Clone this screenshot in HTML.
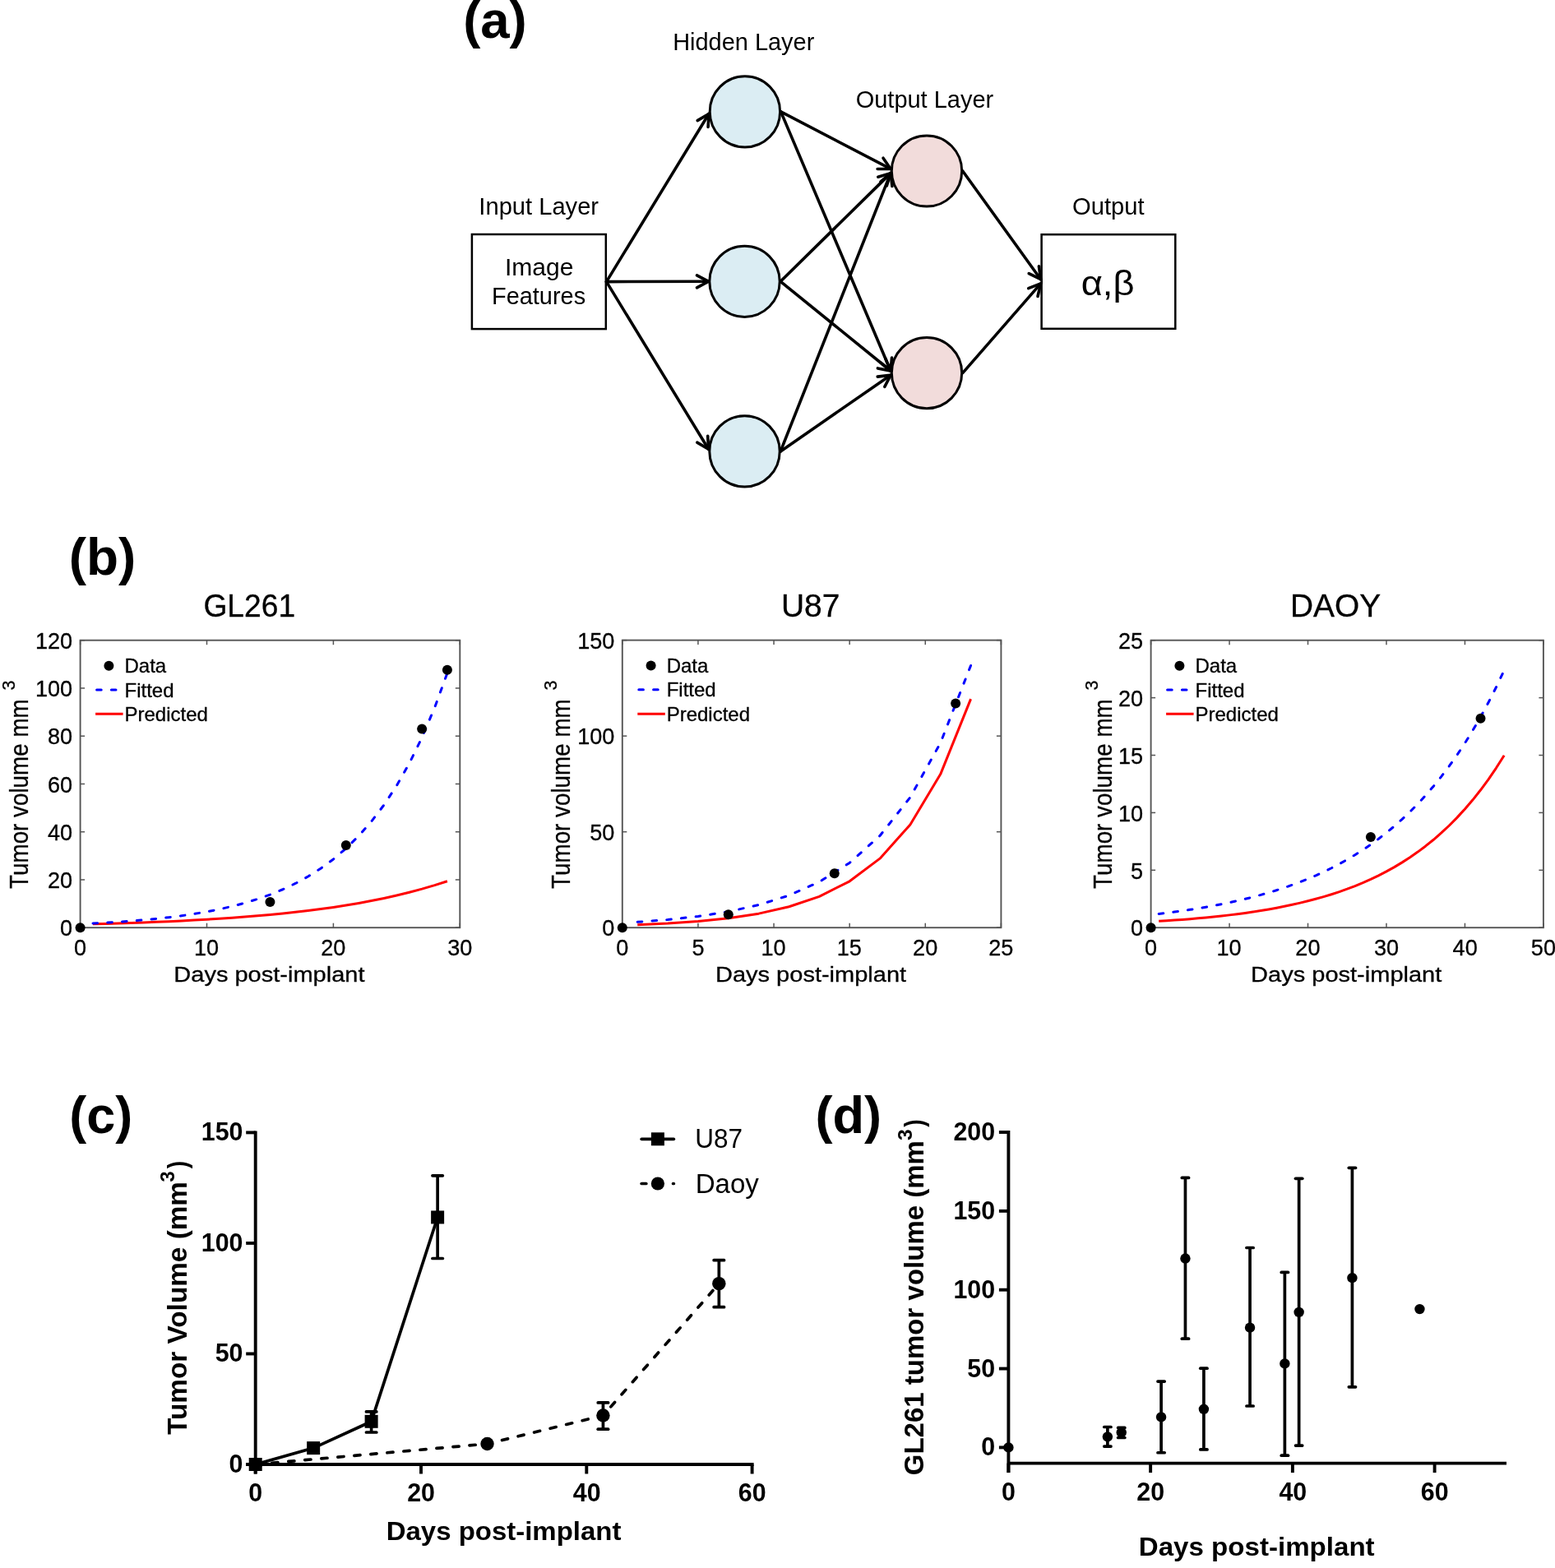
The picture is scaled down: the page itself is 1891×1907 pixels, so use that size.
<!DOCTYPE html>
<html><head><meta charset="utf-8"><title>Figure</title>
<style>html,body{margin:0;padding:0;background:#fff;}svg{display:block;}text{font-family:"Liberation Sans", sans-serif;}text.m{stroke:#000;stroke-width:0.3px;}</style>
</head><body>
<svg width="1891" height="1907" viewBox="0 0 1891 1907">
<rect width="1891" height="1907" fill="#fff"/>
<text x="563.13" y="45.80" font-size="63.8" font-weight="bold" fill="#000" textLength="77.57" lengthAdjust="spacingAndGlyphs">(a)</text>
<text x="818.18" y="60.90" font-size="29" fill="#000" textLength="172.15" lengthAdjust="spacingAndGlyphs">Hidden Layer</text>
<text x="582.38" y="261.00" font-size="29" fill="#000" textLength="145.66" lengthAdjust="spacingAndGlyphs">Input Layer</text>
<text x="1040.70" y="130.70" font-size="29" fill="#000" textLength="167.48" lengthAdjust="spacingAndGlyphs">Output Layer</text>
<text x="1304.09" y="261.00" font-size="29" fill="#000" textLength="87.51" lengthAdjust="spacingAndGlyphs">Output</text>
<rect x="573.9" y="285.0" width="162.9" height="115.1" fill="#fff" stroke="#000" stroke-width="2.5"/>
<rect x="1266.6" y="285.2" width="162.7" height="114.6" fill="#fff" stroke="#000" stroke-width="2.5"/>
<text x="613.99" y="335.00" font-size="29" fill="#000" textLength="83.54" lengthAdjust="spacingAndGlyphs">Image</text>
<text x="597.99" y="369.60" font-size="29" fill="#000" textLength="114.17" lengthAdjust="spacingAndGlyphs">Features</text>
<text x="1314.69" y="358.90" font-size="42" fill="#000" textLength="64.77" lengthAdjust="spacingAndGlyphs">α,β</text>
<line x1="737.5" y1="342.6" x2="862.0" y2="138.5" stroke="#000" stroke-width="3.6" stroke-linecap="round"/>
<polyline points="861.1,154.5 862.0,138.5 848.2,146.6" fill="none" stroke="#000" stroke-width="3.6" stroke-linecap="round" stroke-linejoin="miter"/>
<line x1="737.5" y1="342.6" x2="861.6" y2="342.3" stroke="#000" stroke-width="3.6" stroke-linecap="round"/>
<polyline points="847.5,349.8 861.6,342.3 847.5,334.8" fill="none" stroke="#000" stroke-width="3.6" stroke-linecap="round" stroke-linejoin="miter"/>
<line x1="737.5" y1="342.6" x2="861.6" y2="546.3" stroke="#000" stroke-width="3.6" stroke-linecap="round"/>
<polyline points="847.8,538.1 861.6,546.3 860.7,530.3" fill="none" stroke="#000" stroke-width="3.6" stroke-linecap="round" stroke-linejoin="miter"/>
<line x1="949.6" y1="135.9" x2="1083.1" y2="205.4" stroke="#000" stroke-width="3.6" stroke-linecap="round"/>
<polyline points="1067.1,205.5 1083.1,205.4 1074.0,192.2" fill="none" stroke="#000" stroke-width="3.6" stroke-linecap="round" stroke-linejoin="miter"/>
<line x1="949.6" y1="135.9" x2="1083.1" y2="451.0" stroke="#000" stroke-width="3.6" stroke-linecap="round"/>
<polyline points="1070.7,440.9 1083.1,451.0 1084.5,435.1" fill="none" stroke="#000" stroke-width="3.6" stroke-linecap="round" stroke-linejoin="miter"/>
<line x1="949.2" y1="342.3" x2="1083.1" y2="210.6" stroke="#000" stroke-width="3.6" stroke-linecap="round"/>
<polyline points="1078.3,225.9 1083.1,210.6 1067.8,215.2" fill="none" stroke="#000" stroke-width="3.6" stroke-linecap="round" stroke-linejoin="miter"/>
<line x1="949.2" y1="342.3" x2="1083.1" y2="451.0" stroke="#000" stroke-width="3.6" stroke-linecap="round"/>
<polyline points="1067.4,447.9 1083.1,451.0 1076.9,436.3" fill="none" stroke="#000" stroke-width="3.6" stroke-linecap="round" stroke-linejoin="miter"/>
<line x1="949.2" y1="548.9" x2="1083.1" y2="210.6" stroke="#000" stroke-width="3.6" stroke-linecap="round"/>
<polyline points="1084.9,226.5 1083.1,210.6 1070.9,221.0" fill="none" stroke="#000" stroke-width="3.6" stroke-linecap="round" stroke-linejoin="miter"/>
<line x1="949.2" y1="548.9" x2="1083.1" y2="456.2" stroke="#000" stroke-width="3.6" stroke-linecap="round"/>
<polyline points="1075.8,470.4 1083.1,456.2 1067.2,458.1" fill="none" stroke="#000" stroke-width="3.6" stroke-linecap="round" stroke-linejoin="miter"/>
<line x1="1170.7" y1="208.0" x2="1265.6" y2="339.7" stroke="#000" stroke-width="3.6" stroke-linecap="round"/>
<polyline points="1251.2,332.6 1265.6,339.7 1263.4,323.8" fill="none" stroke="#000" stroke-width="3.6" stroke-linecap="round" stroke-linejoin="miter"/>
<line x1="1170.7" y1="453.6" x2="1265.6" y2="344.9" stroke="#000" stroke-width="3.6" stroke-linecap="round"/>
<polyline points="1262.0,360.5 1265.6,344.9 1250.7,350.6" fill="none" stroke="#000" stroke-width="3.6" stroke-linecap="round" stroke-linejoin="miter"/>
<ellipse cx="905.9" cy="135.9" rx="42.7" ry="43.1" fill="#dbedf3" stroke="#000" stroke-width="3"/>
<ellipse cx="905.5" cy="342.3" rx="42.7" ry="43.1" fill="#dbedf3" stroke="#000" stroke-width="3"/>
<ellipse cx="905.5" cy="548.9" rx="42.7" ry="43.1" fill="#dbedf3" stroke="#000" stroke-width="3"/>
<ellipse cx="1127.0" cy="208.0" rx="42.7" ry="43.1" fill="#f2dcdb" stroke="#000" stroke-width="3"/>
<ellipse cx="1127.0" cy="453.6" rx="42.7" ry="43.1" fill="#f2dcdb" stroke="#000" stroke-width="3"/>
<text x="83.81" y="699.20" font-size="63.5" font-weight="bold" fill="#000" textLength="81.60" lengthAdjust="spacingAndGlyphs">(b)</text>
<polyline points="112.99,1123.83 128.38,1123.41 143.77,1122.95 159.16,1122.45 174.55,1121.90 189.94,1121.30 205.33,1120.64 220.72,1119.92 236.11,1119.12 251.50,1118.25 266.89,1117.30 282.28,1116.26 297.67,1115.12 313.06,1113.87 328.45,1112.49 343.84,1110.99 359.23,1109.34 374.62,1107.54 390.01,1105.56 405.40,1103.39 420.79,1101.02 436.18,1098.42 451.57,1095.57 466.96,1092.45 482.35,1089.02 497.74,1085.27 513.13,1081.17 528.52,1076.66 543.91,1071.73" fill="none" stroke="#ff0000" stroke-width="3" stroke-linejoin="round"/>
<polyline points="112.99,1122.99 128.38,1122.18 143.77,1121.23 159.16,1120.13 174.55,1118.87 189.94,1117.40 205.33,1115.70 220.72,1113.74 236.11,1111.47 251.50,1108.84 266.89,1105.80 282.28,1102.28 297.67,1098.21 313.06,1093.50 328.45,1088.05 343.84,1081.75 359.23,1074.45 374.62,1066.01 390.01,1056.24 405.40,1044.93 420.79,1031.85 436.18,1016.72 451.57,999.21 466.96,978.95 482.35,955.50 497.74,928.38 513.13,896.99 528.52,860.67 543.91,818.65" fill="none" stroke="#0000ff" stroke-width="3" stroke-dasharray="5.6 12.2" stroke-linecap="round" stroke-linejoin="round"/>
<rect x="97.60" y="778.70" width="461.70" height="349.50" fill="none" stroke="#555" stroke-width="1.9"/>
<line x1="97.60" y1="1128.2" x2="97.60" y2="1122.7" stroke="#555" stroke-width="1.5"/>
<line x1="97.60" y1="778.7" x2="97.60" y2="784.2" stroke="#555" stroke-width="1.5"/>
<text class="m" x="90.09" y="1161.90" font-size="28.5" fill="#000" textLength="15.06" lengthAdjust="spacingAndGlyphs">0</text>
<line x1="251.50" y1="1128.2" x2="251.50" y2="1122.7" stroke="#555" stroke-width="1.5"/>
<line x1="251.50" y1="778.7" x2="251.50" y2="784.2" stroke="#555" stroke-width="1.5"/>
<text class="m" x="236.00" y="1161.90" font-size="28.5" fill="#000" textLength="30.12" lengthAdjust="spacingAndGlyphs">10</text>
<line x1="405.40" y1="1128.2" x2="405.40" y2="1122.7" stroke="#555" stroke-width="1.5"/>
<line x1="405.40" y1="778.7" x2="405.40" y2="784.2" stroke="#555" stroke-width="1.5"/>
<text class="m" x="390.24" y="1161.90" font-size="28.5" fill="#000" textLength="30.12" lengthAdjust="spacingAndGlyphs">20</text>
<line x1="559.30" y1="1128.2" x2="559.30" y2="1122.7" stroke="#555" stroke-width="1.5"/>
<line x1="559.30" y1="778.7" x2="559.30" y2="784.2" stroke="#555" stroke-width="1.5"/>
<text class="m" x="544.27" y="1161.90" font-size="28.5" fill="#000" textLength="30.12" lengthAdjust="spacingAndGlyphs">30</text>
<line x1="97.6" y1="1128.20" x2="103.1" y2="1128.20" stroke="#555" stroke-width="1.5"/>
<line x1="559.3" y1="1128.20" x2="553.8" y2="1128.20" stroke="#555" stroke-width="1.5"/>
<text class="m" x="73.06" y="1138.40" font-size="28.5" fill="#000" textLength="15.06" lengthAdjust="spacingAndGlyphs">0</text>
<line x1="97.6" y1="1069.95" x2="103.1" y2="1069.95" stroke="#555" stroke-width="1.5"/>
<line x1="559.3" y1="1069.95" x2="553.8" y2="1069.95" stroke="#555" stroke-width="1.5"/>
<text class="m" x="58.03" y="1080.15" font-size="28.5" fill="#000" textLength="30.12" lengthAdjust="spacingAndGlyphs">20</text>
<line x1="97.6" y1="1011.70" x2="103.1" y2="1011.70" stroke="#555" stroke-width="1.5"/>
<line x1="559.3" y1="1011.70" x2="553.8" y2="1011.70" stroke="#555" stroke-width="1.5"/>
<text class="m" x="58.03" y="1021.90" font-size="28.5" fill="#000" textLength="30.12" lengthAdjust="spacingAndGlyphs">40</text>
<line x1="97.6" y1="953.45" x2="103.1" y2="953.45" stroke="#555" stroke-width="1.5"/>
<line x1="559.3" y1="953.45" x2="553.8" y2="953.45" stroke="#555" stroke-width="1.5"/>
<text class="m" x="58.03" y="963.65" font-size="28.5" fill="#000" textLength="30.12" lengthAdjust="spacingAndGlyphs">60</text>
<line x1="97.6" y1="895.20" x2="103.1" y2="895.20" stroke="#555" stroke-width="1.5"/>
<line x1="559.3" y1="895.20" x2="553.8" y2="895.20" stroke="#555" stroke-width="1.5"/>
<text class="m" x="58.03" y="905.40" font-size="28.5" fill="#000" textLength="30.12" lengthAdjust="spacingAndGlyphs">80</text>
<line x1="97.6" y1="836.95" x2="103.1" y2="836.95" stroke="#555" stroke-width="1.5"/>
<line x1="559.3" y1="836.95" x2="553.8" y2="836.95" stroke="#555" stroke-width="1.5"/>
<text class="m" x="43.00" y="847.15" font-size="28.5" fill="#000" textLength="45.18" lengthAdjust="spacingAndGlyphs">100</text>
<line x1="97.6" y1="778.70" x2="103.1" y2="778.70" stroke="#555" stroke-width="1.5"/>
<line x1="559.3" y1="778.70" x2="553.8" y2="778.70" stroke="#555" stroke-width="1.5"/>
<text class="m" x="43.00" y="788.90" font-size="28.5" fill="#000" textLength="45.18" lengthAdjust="spacingAndGlyphs">120</text>
<circle cx="97.60" cy="1128.20" r="6" fill="#000"/>
<circle cx="328.45" cy="1097.04" r="6" fill="#000"/>
<circle cx="420.79" cy="1028.01" r="6" fill="#000"/>
<circle cx="513.13" cy="886.46" r="6" fill="#000"/>
<circle cx="543.91" cy="814.82" r="6" fill="#000"/>
<circle cx="132.40" cy="809.7" r="6" fill="#000"/>
<line x1="116.10" y1="838.9000000000001" x2="149.60" y2="838.9000000000001" stroke="#0000ff" stroke-width="3" stroke-dasharray="5.6 12.2" stroke-dashoffset="-1.5" stroke-linecap="round"/>
<line x1="116.10" y1="868.3000000000001" x2="149.60" y2="868.3000000000001" stroke="#ff0000" stroke-width="3"/>
<text class="m" x="151.48" y="818.30" font-size="24" fill="#000">Data</text>
<text class="m" x="151.48" y="847.50" font-size="24" fill="#000">Fitted</text>
<text class="m" x="151.48" y="876.70" font-size="24" fill="#000">Predicted</text>
<text class="m" x="247.44" y="749.90" font-size="39" fill="#000" textLength="111.71" lengthAdjust="spacingAndGlyphs">GL261</text>
<text class="m" x="211.33" y="1194.10" font-size="26.5" fill="#000" textLength="232.16" lengthAdjust="spacingAndGlyphs">Days post-implant</text>
<text class="m" transform="translate(34.40,1080.89) rotate(-90)" x="0" y="0" font-size="31" fill="#000" textLength="230.57" lengthAdjust="spacingAndGlyphs">Tumor volume mm</text>
<text class="m" transform="translate(17.90,839.55) rotate(-90)" x="0" y="0" font-size="21.5" fill="#000" textLength="11.83" lengthAdjust="spacingAndGlyphs">3</text>
<polyline points="775.22,1124.74 812.07,1123.05 848.92,1120.52 885.77,1116.76 922.62,1111.15 959.46,1102.79 996.31,1090.34 1033.16,1071.79 1070.01,1044.14 1106.86,1002.95 1143.70,941.57 1180.55,850.12" fill="none" stroke="#ff0000" stroke-width="3" stroke-linejoin="round"/>
<polyline points="775.22,1121.37 812.07,1118.52 848.92,1114.47 885.77,1108.72 922.62,1100.58 959.46,1089.03 996.31,1072.64 1033.16,1049.41 1070.01,1016.46 1106.86,969.72 1143.70,903.44 1180.55,809.45" fill="none" stroke="#0000ff" stroke-width="3" stroke-dasharray="5.6 12.2" stroke-linecap="round" stroke-linejoin="round"/>
<rect x="756.80" y="778.60" width="460.60" height="349.60" fill="none" stroke="#555" stroke-width="1.9"/>
<line x1="756.80" y1="1128.2" x2="756.80" y2="1122.7" stroke="#555" stroke-width="1.5"/>
<line x1="756.80" y1="778.6" x2="756.80" y2="784.1" stroke="#555" stroke-width="1.5"/>
<text class="m" x="749.29" y="1161.90" font-size="28.5" fill="#000" textLength="15.06" lengthAdjust="spacingAndGlyphs">0</text>
<line x1="848.92" y1="1128.2" x2="848.92" y2="1122.7" stroke="#555" stroke-width="1.5"/>
<line x1="848.92" y1="778.6" x2="848.92" y2="784.1" stroke="#555" stroke-width="1.5"/>
<text class="m" x="841.41" y="1161.90" font-size="28.5" fill="#000" textLength="15.06" lengthAdjust="spacingAndGlyphs">5</text>
<line x1="941.04" y1="1128.2" x2="941.04" y2="1122.7" stroke="#555" stroke-width="1.5"/>
<line x1="941.04" y1="778.6" x2="941.04" y2="784.1" stroke="#555" stroke-width="1.5"/>
<text class="m" x="925.54" y="1161.90" font-size="28.5" fill="#000" textLength="30.12" lengthAdjust="spacingAndGlyphs">10</text>
<line x1="1033.16" y1="1128.2" x2="1033.16" y2="1122.7" stroke="#555" stroke-width="1.5"/>
<line x1="1033.16" y1="778.6" x2="1033.16" y2="784.1" stroke="#555" stroke-width="1.5"/>
<text class="m" x="1017.66" y="1161.90" font-size="28.5" fill="#000" textLength="30.12" lengthAdjust="spacingAndGlyphs">15</text>
<line x1="1125.28" y1="1128.2" x2="1125.28" y2="1122.7" stroke="#555" stroke-width="1.5"/>
<line x1="1125.28" y1="778.6" x2="1125.28" y2="784.1" stroke="#555" stroke-width="1.5"/>
<text class="m" x="1110.12" y="1161.90" font-size="28.5" fill="#000" textLength="30.12" lengthAdjust="spacingAndGlyphs">20</text>
<line x1="1217.40" y1="1128.2" x2="1217.40" y2="1122.7" stroke="#555" stroke-width="1.5"/>
<line x1="1217.40" y1="778.6" x2="1217.40" y2="784.1" stroke="#555" stroke-width="1.5"/>
<text class="m" x="1202.24" y="1161.90" font-size="28.5" fill="#000" textLength="30.12" lengthAdjust="spacingAndGlyphs">25</text>
<line x1="756.8" y1="1128.20" x2="762.3" y2="1128.20" stroke="#555" stroke-width="1.5"/>
<line x1="1217.4" y1="1128.20" x2="1211.9" y2="1128.20" stroke="#555" stroke-width="1.5"/>
<text class="m" x="732.26" y="1138.40" font-size="28.5" fill="#000" textLength="15.06" lengthAdjust="spacingAndGlyphs">0</text>
<line x1="756.8" y1="1011.67" x2="762.3" y2="1011.67" stroke="#555" stroke-width="1.5"/>
<line x1="1217.4" y1="1011.67" x2="1211.9" y2="1011.67" stroke="#555" stroke-width="1.5"/>
<text class="m" x="717.23" y="1021.87" font-size="28.5" fill="#000" textLength="30.12" lengthAdjust="spacingAndGlyphs">50</text>
<line x1="756.8" y1="895.13" x2="762.3" y2="895.13" stroke="#555" stroke-width="1.5"/>
<line x1="1217.4" y1="895.13" x2="1211.9" y2="895.13" stroke="#555" stroke-width="1.5"/>
<text class="m" x="702.20" y="905.33" font-size="28.5" fill="#000" textLength="45.18" lengthAdjust="spacingAndGlyphs">100</text>
<line x1="756.8" y1="778.60" x2="762.3" y2="778.60" stroke="#555" stroke-width="1.5"/>
<line x1="1217.4" y1="778.60" x2="1211.9" y2="778.60" stroke="#555" stroke-width="1.5"/>
<text class="m" x="702.20" y="788.80" font-size="28.5" fill="#000" textLength="45.18" lengthAdjust="spacingAndGlyphs">150</text>
<circle cx="756.80" cy="1128.20" r="6" fill="#000"/>
<circle cx="885.77" cy="1112.35" r="6" fill="#000"/>
<circle cx="1014.74" cy="1062.24" r="6" fill="#000"/>
<circle cx="1162.13" cy="855.51" r="6" fill="#000"/>
<circle cx="791.60" cy="809.6" r="6" fill="#000"/>
<line x1="775.30" y1="838.8000000000001" x2="808.80" y2="838.8000000000001" stroke="#0000ff" stroke-width="3" stroke-dasharray="5.6 12.2" stroke-dashoffset="-1.5" stroke-linecap="round"/>
<line x1="775.30" y1="868.2" x2="808.80" y2="868.2" stroke="#ff0000" stroke-width="3"/>
<text class="m" x="810.68" y="818.20" font-size="24" fill="#000">Data</text>
<text class="m" x="810.68" y="847.40" font-size="24" fill="#000">Fitted</text>
<text class="m" x="810.68" y="876.60" font-size="24" fill="#000">Predicted</text>
<text class="m" x="949.98" y="749.90" font-size="39" fill="#000" textLength="71.45" lengthAdjust="spacingAndGlyphs">U87</text>
<text class="m" x="869.98" y="1194.10" font-size="26.5" fill="#000" textLength="232.16" lengthAdjust="spacingAndGlyphs">Days post-implant</text>
<text class="m" transform="translate(693.10,1080.89) rotate(-90)" x="0" y="0" font-size="31" fill="#000" textLength="230.57" lengthAdjust="spacingAndGlyphs">Tumor volume mm</text>
<text class="m" transform="translate(676.60,839.55) rotate(-90)" x="0" y="0" font-size="21.5" fill="#000" textLength="11.83" lengthAdjust="spacingAndGlyphs">3</text>
<polyline points="1409.15,1120.37 1418.69,1119.76 1428.24,1119.11 1437.78,1118.40 1447.33,1117.64 1456.88,1116.83 1466.42,1115.94 1475.97,1114.99 1485.51,1113.97 1495.06,1112.87 1504.61,1111.68 1514.15,1110.39 1523.70,1109.01 1533.24,1107.53 1542.79,1105.92 1552.34,1104.19 1561.88,1102.33 1571.43,1100.33 1580.97,1098.16 1590.52,1095.83 1600.07,1093.32 1609.61,1090.62 1619.16,1087.70 1628.70,1084.56 1638.25,1081.18 1647.80,1077.53 1657.34,1073.60 1666.89,1069.37 1676.43,1064.80 1685.98,1059.89 1695.53,1054.59 1705.07,1048.88 1714.62,1042.73 1724.16,1036.10 1733.71,1028.95 1743.26,1021.26 1752.80,1012.96 1762.35,1004.02 1771.89,994.39 1781.44,984.01 1790.99,972.83 1800.53,960.78 1810.08,947.79 1819.62,933.80 1829.17,918.72" fill="none" stroke="#ff0000" stroke-width="3" stroke-linejoin="round"/>
<polyline points="1409.15,1111.42 1418.69,1110.27 1428.24,1109.04 1437.78,1107.72 1447.33,1106.31 1456.88,1104.81 1466.42,1103.20 1475.97,1101.48 1485.51,1099.64 1495.06,1097.68 1504.61,1095.58 1514.15,1093.34 1523.70,1090.94 1533.24,1088.38 1542.79,1085.64 1552.34,1082.71 1561.88,1079.58 1571.43,1076.24 1580.97,1072.67 1590.52,1068.85 1600.07,1064.77 1609.61,1060.41 1619.16,1055.75 1628.70,1050.76 1638.25,1045.44 1647.80,1039.75 1657.34,1033.67 1666.89,1027.17 1676.43,1020.22 1685.98,1012.79 1695.53,1004.86 1705.07,996.38 1714.62,987.31 1724.16,977.63 1733.71,967.27 1743.26,956.21 1752.80,944.38 1762.35,931.74 1771.89,918.23 1781.44,903.80 1790.99,888.37 1800.53,871.87 1810.08,854.25 1819.62,835.41 1829.17,815.28" fill="none" stroke="#0000ff" stroke-width="3" stroke-dasharray="5.6 12.2" stroke-linecap="round" stroke-linejoin="round"/>
<rect x="1399.60" y="778.70" width="477.30" height="349.50" fill="none" stroke="#555" stroke-width="1.9"/>
<line x1="1399.60" y1="1128.2" x2="1399.60" y2="1122.7" stroke="#555" stroke-width="1.5"/>
<line x1="1399.60" y1="778.7" x2="1399.60" y2="784.2" stroke="#555" stroke-width="1.5"/>
<text class="m" x="1392.09" y="1161.90" font-size="28.5" fill="#000" textLength="15.06" lengthAdjust="spacingAndGlyphs">0</text>
<line x1="1495.06" y1="1128.2" x2="1495.06" y2="1122.7" stroke="#555" stroke-width="1.5"/>
<line x1="1495.06" y1="778.7" x2="1495.06" y2="784.2" stroke="#555" stroke-width="1.5"/>
<text class="m" x="1479.56" y="1161.90" font-size="28.5" fill="#000" textLength="30.12" lengthAdjust="spacingAndGlyphs">10</text>
<line x1="1590.52" y1="1128.2" x2="1590.52" y2="1122.7" stroke="#555" stroke-width="1.5"/>
<line x1="1590.52" y1="778.7" x2="1590.52" y2="784.2" stroke="#555" stroke-width="1.5"/>
<text class="m" x="1575.36" y="1161.90" font-size="28.5" fill="#000" textLength="30.12" lengthAdjust="spacingAndGlyphs">20</text>
<line x1="1685.98" y1="1128.2" x2="1685.98" y2="1122.7" stroke="#555" stroke-width="1.5"/>
<line x1="1685.98" y1="778.7" x2="1685.98" y2="784.2" stroke="#555" stroke-width="1.5"/>
<text class="m" x="1670.95" y="1161.90" font-size="28.5" fill="#000" textLength="30.12" lengthAdjust="spacingAndGlyphs">30</text>
<line x1="1781.44" y1="1128.2" x2="1781.44" y2="1122.7" stroke="#555" stroke-width="1.5"/>
<line x1="1781.44" y1="778.7" x2="1781.44" y2="784.2" stroke="#555" stroke-width="1.5"/>
<text class="m" x="1766.62" y="1161.90" font-size="28.5" fill="#000" textLength="30.12" lengthAdjust="spacingAndGlyphs">40</text>
<line x1="1876.90" y1="1128.2" x2="1876.90" y2="1122.7" stroke="#555" stroke-width="1.5"/>
<line x1="1876.90" y1="778.7" x2="1876.90" y2="784.2" stroke="#555" stroke-width="1.5"/>
<text class="m" x="1861.87" y="1161.90" font-size="28.5" fill="#000" textLength="30.12" lengthAdjust="spacingAndGlyphs">50</text>
<line x1="1399.6" y1="1128.20" x2="1405.1" y2="1128.20" stroke="#555" stroke-width="1.5"/>
<line x1="1876.9" y1="1128.20" x2="1871.4" y2="1128.20" stroke="#555" stroke-width="1.5"/>
<text class="m" x="1375.06" y="1138.40" font-size="28.5" fill="#000" textLength="15.06" lengthAdjust="spacingAndGlyphs">0</text>
<line x1="1399.6" y1="1058.30" x2="1405.1" y2="1058.30" stroke="#555" stroke-width="1.5"/>
<line x1="1876.9" y1="1058.30" x2="1871.4" y2="1058.30" stroke="#555" stroke-width="1.5"/>
<text class="m" x="1375.06" y="1068.50" font-size="28.5" fill="#000" textLength="15.06" lengthAdjust="spacingAndGlyphs">5</text>
<line x1="1399.6" y1="988.40" x2="1405.1" y2="988.40" stroke="#555" stroke-width="1.5"/>
<line x1="1876.9" y1="988.40" x2="1871.4" y2="988.40" stroke="#555" stroke-width="1.5"/>
<text class="m" x="1360.03" y="998.60" font-size="28.5" fill="#000" textLength="30.12" lengthAdjust="spacingAndGlyphs">10</text>
<line x1="1399.6" y1="918.50" x2="1405.1" y2="918.50" stroke="#555" stroke-width="1.5"/>
<line x1="1876.9" y1="918.50" x2="1871.4" y2="918.50" stroke="#555" stroke-width="1.5"/>
<text class="m" x="1360.03" y="928.70" font-size="28.5" fill="#000" textLength="30.12" lengthAdjust="spacingAndGlyphs">15</text>
<line x1="1399.6" y1="848.60" x2="1405.1" y2="848.60" stroke="#555" stroke-width="1.5"/>
<line x1="1876.9" y1="848.60" x2="1871.4" y2="848.60" stroke="#555" stroke-width="1.5"/>
<text class="m" x="1360.03" y="858.80" font-size="28.5" fill="#000" textLength="30.12" lengthAdjust="spacingAndGlyphs">20</text>
<line x1="1399.6" y1="778.70" x2="1405.1" y2="778.70" stroke="#555" stroke-width="1.5"/>
<line x1="1876.9" y1="778.70" x2="1871.4" y2="778.70" stroke="#555" stroke-width="1.5"/>
<text class="m" x="1360.03" y="788.90" font-size="28.5" fill="#000" textLength="30.12" lengthAdjust="spacingAndGlyphs">25</text>
<circle cx="1399.60" cy="1128.20" r="6" fill="#000"/>
<circle cx="1666.89" cy="1018.04" r="6" fill="#000"/>
<circle cx="1800.53" cy="873.76" r="6" fill="#000"/>
<circle cx="1434.40" cy="809.7" r="6" fill="#000"/>
<line x1="1418.10" y1="838.9000000000001" x2="1451.60" y2="838.9000000000001" stroke="#0000ff" stroke-width="3" stroke-dasharray="5.6 12.2" stroke-dashoffset="-1.5" stroke-linecap="round"/>
<line x1="1418.10" y1="868.3000000000001" x2="1451.60" y2="868.3000000000001" stroke="#ff0000" stroke-width="3"/>
<text class="m" x="1453.48" y="818.30" font-size="24" fill="#000">Data</text>
<text class="m" x="1453.48" y="847.50" font-size="24" fill="#000">Fitted</text>
<text class="m" x="1453.48" y="876.70" font-size="24" fill="#000">Predicted</text>
<text class="m" x="1568.89" y="749.90" font-size="39" fill="#000" textLength="110.25" lengthAdjust="spacingAndGlyphs">DAOY</text>
<text class="m" x="1521.13" y="1194.10" font-size="26.5" fill="#000" textLength="232.16" lengthAdjust="spacingAndGlyphs">Days post-implant</text>
<text class="m" transform="translate(1351.90,1080.89) rotate(-90)" x="0" y="0" font-size="31" fill="#000" textLength="230.57" lengthAdjust="spacingAndGlyphs">Tumor volume mm</text>
<text class="m" transform="translate(1335.40,839.55) rotate(-90)" x="0" y="0" font-size="21.5" fill="#000" textLength="11.83" lengthAdjust="spacingAndGlyphs">3</text>
<text x="84.15" y="1377.70" font-size="63" font-weight="bold" fill="#000" textLength="77.03" lengthAdjust="spacingAndGlyphs">(c)</text>
<line x1="310.7" y1="1375.5" x2="310.7" y2="1792.5" stroke="#000" stroke-width="3.9"/>
<line x1="299.2" y1="1781.0" x2="916.6" y2="1781.0" stroke="#000" stroke-width="3.9"/>
<line x1="299.2" y1="1781.00" x2="310.7" y2="1781.00" stroke="#000" stroke-width="3.9"/>
<text x="278.55" y="1791.00" font-size="31" font-weight="bold" fill="#000" textLength="16.90" lengthAdjust="spacingAndGlyphs">0</text>
<line x1="299.2" y1="1646.47" x2="310.7" y2="1646.47" stroke="#000" stroke-width="3.9"/>
<text x="261.69" y="1656.47" font-size="31" font-weight="bold" fill="#000" textLength="33.79" lengthAdjust="spacingAndGlyphs">50</text>
<line x1="299.2" y1="1511.93" x2="310.7" y2="1511.93" stroke="#000" stroke-width="3.9"/>
<text x="244.83" y="1521.93" font-size="31" font-weight="bold" fill="#000" textLength="50.69" lengthAdjust="spacingAndGlyphs">100</text>
<line x1="299.2" y1="1377.40" x2="310.7" y2="1377.40" stroke="#000" stroke-width="3.9"/>
<text x="244.83" y="1387.40" font-size="31" font-weight="bold" fill="#000" textLength="50.69" lengthAdjust="spacingAndGlyphs">150</text>
<line x1="310.70" y1="1781.0" x2="310.70" y2="1792.5" stroke="#000" stroke-width="3.9"/>
<text x="302.27" y="1825.80" font-size="31" font-weight="bold" fill="#000" textLength="16.90" lengthAdjust="spacingAndGlyphs">0</text>
<line x1="512.00" y1="1781.0" x2="512.00" y2="1792.5" stroke="#000" stroke-width="3.9"/>
<text x="495.22" y="1825.80" font-size="31" font-weight="bold" fill="#000" textLength="33.79" lengthAdjust="spacingAndGlyphs">20</text>
<line x1="713.30" y1="1781.0" x2="713.30" y2="1792.5" stroke="#000" stroke-width="3.9"/>
<text x="696.82" y="1825.80" font-size="31" font-weight="bold" fill="#000" textLength="33.79" lengthAdjust="spacingAndGlyphs">40</text>
<line x1="914.60" y1="1781.0" x2="914.60" y2="1792.5" stroke="#000" stroke-width="3.9"/>
<text x="897.82" y="1825.80" font-size="31" font-weight="bold" fill="#000" textLength="33.79" lengthAdjust="spacingAndGlyphs">60</text>
<polyline points="310.70,1781.00 381.15,1761.09 451.61,1728.80 532.13,1480.45" fill="none" stroke="#000" stroke-width="3.7"/>
<polyline points="310.70,1781.00 592.52,1755.98 733.43,1721.54 874.34,1561.17" fill="none" stroke="#000" stroke-width="3.7" stroke-dasharray="7.2 12.9" stroke-linecap="round"/>
<line x1="451.61" y1="1741.99" x2="451.61" y2="1716.96" stroke="#000" stroke-width="3.7"/>
<line x1="445.41" y1="1741.99" x2="457.81" y2="1741.99" stroke="#000" stroke-width="3.7" stroke-linecap="round"/>
<line x1="445.41" y1="1716.96" x2="457.81" y2="1716.96" stroke="#000" stroke-width="3.7" stroke-linecap="round"/>
<line x1="532.13" y1="1530.50" x2="532.13" y2="1429.87" stroke="#000" stroke-width="3.7"/>
<line x1="525.93" y1="1530.50" x2="538.33" y2="1530.50" stroke="#000" stroke-width="3.7" stroke-linecap="round"/>
<line x1="525.93" y1="1429.87" x2="538.33" y2="1429.87" stroke="#000" stroke-width="3.7" stroke-linecap="round"/>
<line x1="733.43" y1="1738.22" x2="733.43" y2="1705.93" stroke="#000" stroke-width="3.7"/>
<line x1="727.23" y1="1738.22" x2="739.63" y2="1738.22" stroke="#000" stroke-width="3.7" stroke-linecap="round"/>
<line x1="727.23" y1="1705.93" x2="739.63" y2="1705.93" stroke="#000" stroke-width="3.7" stroke-linecap="round"/>
<line x1="874.34" y1="1589.69" x2="874.34" y2="1532.65" stroke="#000" stroke-width="3.7"/>
<line x1="868.14" y1="1589.69" x2="880.54" y2="1589.69" stroke="#000" stroke-width="3.7" stroke-linecap="round"/>
<line x1="868.14" y1="1532.65" x2="880.54" y2="1532.65" stroke="#000" stroke-width="3.7" stroke-linecap="round"/>
<rect x="302.70" y="1773.00" width="16" height="16" fill="#000"/>
<rect x="373.15" y="1753.09" width="16" height="16" fill="#000"/>
<rect x="443.61" y="1720.80" width="16" height="16" fill="#000"/>
<rect x="524.13" y="1472.45" width="16" height="16" fill="#000"/>
<circle cx="310.70" cy="1781.00" r="8.2" fill="#000"/>
<circle cx="592.52" cy="1755.98" r="8.2" fill="#000"/>
<circle cx="733.43" cy="1721.54" r="8.2" fill="#000"/>
<circle cx="874.34" cy="1561.17" r="8.2" fill="#000"/>
<line x1="780.2" y1="1385.3" x2="819.3" y2="1385.3" stroke="#000" stroke-width="3.7" stroke-linecap="round"/>
<rect x="791.9" y="1377.3" width="16" height="16" fill="#000"/>
<line x1="780.2" y1="1439.5" x2="785.8" y2="1439.5" stroke="#000" stroke-width="3.7" stroke-linecap="round"/>
<line x1="818.6" y1="1439.5" x2="819.3" y2="1439.5" stroke="#000" stroke-width="3.7" stroke-linecap="round"/>
<circle cx="799.9" cy="1439.5" r="8.1" fill="#000"/>
<text x="845.34" y="1396.40" font-size="33.5" fill="#000" textLength="57.83" lengthAdjust="spacingAndGlyphs">U87</text>
<text x="845.65" y="1450.50" font-size="33.5" fill="#000" textLength="77.20" lengthAdjust="spacingAndGlyphs">Daoy</text>
<text x="469.66" y="1872.80" font-size="32" font-weight="bold" fill="#000" textLength="285.78" lengthAdjust="spacingAndGlyphs">Days post-implant</text>
<text transform="translate(227.10,1744.93) rotate(-90)" x="0" y="0" font-size="33" font-weight="bold" fill="#000" textLength="307.94" lengthAdjust="spacingAndGlyphs">Tumor Volume (mm</text>
<text transform="translate(212.30,1437.49) rotate(-90)" x="0" y="0" font-size="24" font-weight="bold" fill="#000" textLength="13.15" lengthAdjust="spacingAndGlyphs">3</text>
<text transform="translate(227.10,1421.14) rotate(-90)" x="0" y="0" font-size="33" font-weight="bold" fill="#000" textLength="9.52" lengthAdjust="spacingAndGlyphs">)</text>
<text x="991.54" y="1377.80" font-size="63" font-weight="bold" fill="#000" textLength="80.62" lengthAdjust="spacingAndGlyphs">(d)</text>
<line x1="1226.4" y1="1375.0" x2="1226.4" y2="1791.1" stroke="#000" stroke-width="3.9"/>
<line x1="1226.4" y1="1779.60" x2="1832.00" y2="1779.60" stroke="#000" stroke-width="3.9"/>
<line x1="1214.9" y1="1760.40" x2="1226.4" y2="1760.40" stroke="#000" stroke-width="3.9"/>
<text x="1193.15" y="1770.40" font-size="31" font-weight="bold" fill="#000" textLength="16.90" lengthAdjust="spacingAndGlyphs">0</text>
<line x1="1214.9" y1="1664.55" x2="1226.4" y2="1664.55" stroke="#000" stroke-width="3.9"/>
<text x="1176.29" y="1674.55" font-size="31" font-weight="bold" fill="#000" textLength="33.79" lengthAdjust="spacingAndGlyphs">50</text>
<line x1="1214.9" y1="1568.70" x2="1226.4" y2="1568.70" stroke="#000" stroke-width="3.9"/>
<text x="1159.43" y="1578.70" font-size="31" font-weight="bold" fill="#000" textLength="50.69" lengthAdjust="spacingAndGlyphs">100</text>
<line x1="1214.9" y1="1472.85" x2="1226.4" y2="1472.85" stroke="#000" stroke-width="3.9"/>
<text x="1159.43" y="1482.85" font-size="31" font-weight="bold" fill="#000" textLength="50.69" lengthAdjust="spacingAndGlyphs">150</text>
<line x1="1214.9" y1="1377.00" x2="1226.4" y2="1377.00" stroke="#000" stroke-width="3.9"/>
<text x="1159.43" y="1387.00" font-size="31" font-weight="bold" fill="#000" textLength="50.69" lengthAdjust="spacingAndGlyphs">200</text>
<line x1="1226.40" y1="1779.60" x2="1226.40" y2="1791.1" stroke="#000" stroke-width="3.9"/>
<text x="1217.97" y="1824.80" font-size="31" font-weight="bold" fill="#000" textLength="16.90" lengthAdjust="spacingAndGlyphs">0</text>
<line x1="1399.13" y1="1779.60" x2="1399.13" y2="1791.1" stroke="#000" stroke-width="3.9"/>
<text x="1382.35" y="1824.80" font-size="31" font-weight="bold" fill="#000" textLength="33.79" lengthAdjust="spacingAndGlyphs">20</text>
<line x1="1571.87" y1="1779.60" x2="1571.87" y2="1791.1" stroke="#000" stroke-width="3.9"/>
<text x="1555.39" y="1824.80" font-size="31" font-weight="bold" fill="#000" textLength="33.79" lengthAdjust="spacingAndGlyphs">40</text>
<line x1="1744.60" y1="1779.60" x2="1744.60" y2="1791.1" stroke="#000" stroke-width="3.9"/>
<text x="1727.82" y="1824.80" font-size="31" font-weight="bold" fill="#000" textLength="33.79" lengthAdjust="spacingAndGlyphs">60</text>
<circle cx="1226.40" cy="1760.40" r="6.2" fill="#000"/>
<line x1="1346.88" y1="1759.06" x2="1346.88" y2="1735.48" stroke="#000" stroke-width="3.7"/>
<line x1="1342.78" y1="1759.06" x2="1350.98" y2="1759.06" stroke="#000" stroke-width="3.7" stroke-linecap="round"/>
<line x1="1342.78" y1="1735.48" x2="1350.98" y2="1735.48" stroke="#000" stroke-width="3.7" stroke-linecap="round"/>
<circle cx="1346.88" cy="1747.36" r="6.2" fill="#000"/>
<line x1="1363.72" y1="1748.51" x2="1363.72" y2="1736.44" stroke="#000" stroke-width="3.7"/>
<line x1="1359.62" y1="1748.51" x2="1367.82" y2="1748.51" stroke="#000" stroke-width="3.7" stroke-linecap="round"/>
<line x1="1359.62" y1="1736.44" x2="1367.82" y2="1736.44" stroke="#000" stroke-width="3.7" stroke-linecap="round"/>
<circle cx="1363.72" cy="1742.19" r="6.2" fill="#000"/>
<line x1="1412.09" y1="1766.73" x2="1412.09" y2="1680.08" stroke="#000" stroke-width="3.7"/>
<line x1="1407.99" y1="1766.73" x2="1416.19" y2="1766.73" stroke="#000" stroke-width="3.7" stroke-linecap="round"/>
<line x1="1407.99" y1="1680.08" x2="1416.19" y2="1680.08" stroke="#000" stroke-width="3.7" stroke-linecap="round"/>
<circle cx="1412.09" cy="1723.40" r="6.2" fill="#000"/>
<line x1="1441.45" y1="1628.13" x2="1441.45" y2="1432.40" stroke="#000" stroke-width="3.7"/>
<line x1="1437.35" y1="1628.13" x2="1445.55" y2="1628.13" stroke="#000" stroke-width="3.7" stroke-linecap="round"/>
<line x1="1437.35" y1="1432.40" x2="1445.55" y2="1432.40" stroke="#000" stroke-width="3.7" stroke-linecap="round"/>
<circle cx="1441.45" cy="1530.55" r="6.2" fill="#000"/>
<line x1="1463.91" y1="1762.89" x2="1463.91" y2="1664.17" stroke="#000" stroke-width="3.7"/>
<line x1="1459.81" y1="1762.89" x2="1468.01" y2="1762.89" stroke="#000" stroke-width="3.7" stroke-linecap="round"/>
<line x1="1459.81" y1="1664.17" x2="1468.01" y2="1664.17" stroke="#000" stroke-width="3.7" stroke-linecap="round"/>
<circle cx="1463.91" cy="1713.82" r="6.2" fill="#000"/>
<line x1="1520.05" y1="1709.98" x2="1520.05" y2="1517.52" stroke="#000" stroke-width="3.7"/>
<line x1="1515.95" y1="1709.98" x2="1524.15" y2="1709.98" stroke="#000" stroke-width="3.7" stroke-linecap="round"/>
<line x1="1515.95" y1="1517.52" x2="1524.15" y2="1517.52" stroke="#000" stroke-width="3.7" stroke-linecap="round"/>
<circle cx="1520.05" cy="1614.71" r="6.2" fill="#000"/>
<line x1="1562.37" y1="1770.18" x2="1562.37" y2="1547.42" stroke="#000" stroke-width="3.7"/>
<line x1="1558.27" y1="1770.18" x2="1566.47" y2="1770.18" stroke="#000" stroke-width="3.7" stroke-linecap="round"/>
<line x1="1558.27" y1="1547.42" x2="1566.47" y2="1547.42" stroke="#000" stroke-width="3.7" stroke-linecap="round"/>
<circle cx="1562.37" cy="1658.42" r="6.2" fill="#000"/>
<line x1="1579.64" y1="1758.10" x2="1579.64" y2="1433.36" stroke="#000" stroke-width="3.7"/>
<line x1="1575.54" y1="1758.10" x2="1583.74" y2="1758.10" stroke="#000" stroke-width="3.7" stroke-linecap="round"/>
<line x1="1575.54" y1="1433.36" x2="1583.74" y2="1433.36" stroke="#000" stroke-width="3.7" stroke-linecap="round"/>
<circle cx="1579.64" cy="1595.92" r="6.2" fill="#000"/>
<line x1="1644.41" y1="1686.79" x2="1644.41" y2="1420.32" stroke="#000" stroke-width="3.7"/>
<line x1="1640.31" y1="1686.79" x2="1648.51" y2="1686.79" stroke="#000" stroke-width="3.7" stroke-linecap="round"/>
<line x1="1640.31" y1="1420.32" x2="1648.51" y2="1420.32" stroke="#000" stroke-width="3.7" stroke-linecap="round"/>
<circle cx="1644.41" cy="1554.13" r="6.2" fill="#000"/>
<circle cx="1726.46" cy="1592.09" r="6.2" fill="#000"/>
<text x="1384.75" y="1891.50" font-size="32" font-weight="bold" fill="#000" textLength="286.89" lengthAdjust="spacingAndGlyphs">Days post-implant</text>
<text transform="translate(1123.20,1794.22) rotate(-90)" x="0" y="0" font-size="33" font-weight="bold" fill="#000" textLength="407.20" lengthAdjust="spacingAndGlyphs">GL261 tumor volume (mm</text>
<text transform="translate(1108.50,1387.12) rotate(-90)" x="0" y="0" font-size="24" font-weight="bold" fill="#000" textLength="13.71" lengthAdjust="spacingAndGlyphs">3</text>
<text transform="translate(1123.20,1370.74) rotate(-90)" x="0" y="0" font-size="33" font-weight="bold" fill="#000" textLength="9.52" lengthAdjust="spacingAndGlyphs">)</text>
</svg>
</body></html>
